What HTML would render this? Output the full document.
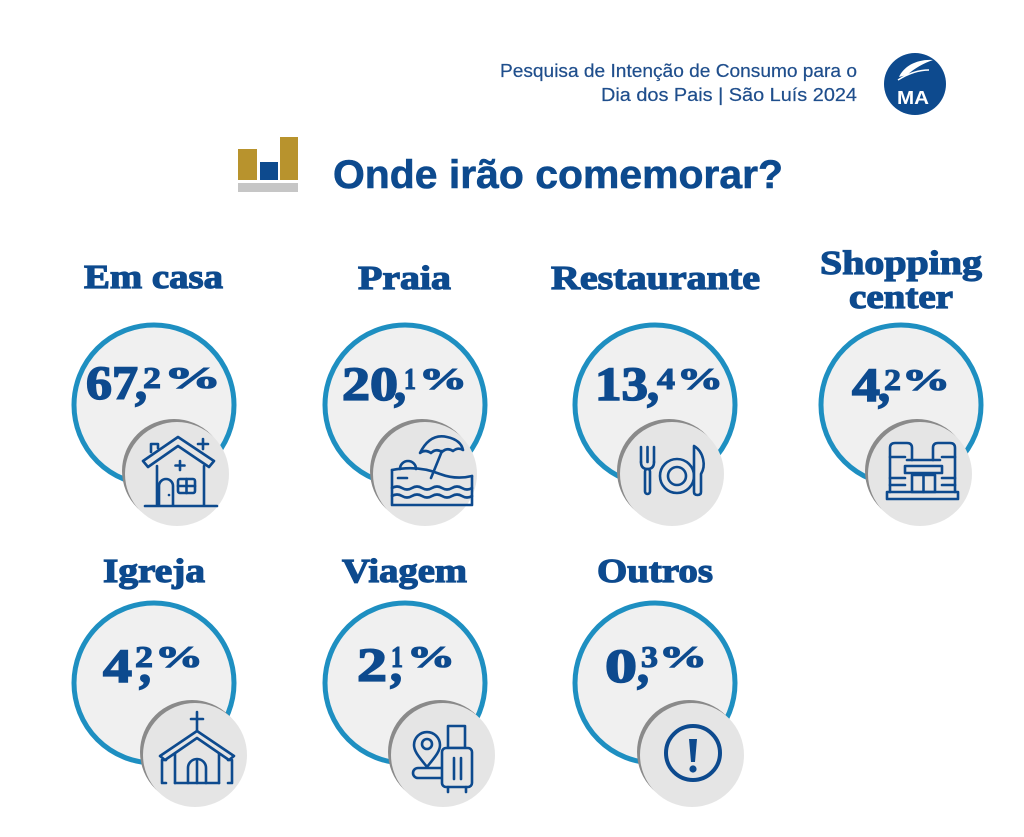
<!DOCTYPE html>
<html><head><meta charset="utf-8"><style>
html,body{margin:0;padding:0;background:#fff;}
svg{display:block;}
.lab{font-family:"Liberation Serif",serif;font-weight:bold;font-size:34px;fill:#0d4a8e;stroke:#0d4a8e;stroke-width:1.2;}
.big{font-family:"Liberation Serif",serif;font-weight:bold;font-size:48px;fill:#0d4a8e;stroke:#0d4a8e;stroke-width:1.6;}
.sup{font-family:"Liberation Serif",serif;font-weight:bold;font-size:31px;fill:#0d4a8e;stroke:#0d4a8e;stroke-width:1.1;}
.ring{fill:#f0f0f0;stroke:#1e8fc1;stroke-width:5;}
.sh{fill:#8a8a8a;}
.sm{fill:#e5e5e5;}
.ic{fill:none;stroke:#0d4a8e;stroke-width:2.6;stroke-linejoin:round;stroke-linecap:round;}
</style></head><body>
<svg width="1024" height="837" viewBox="0 0 1024 837" xmlns="http://www.w3.org/2000/svg">
<rect width="1024" height="837" fill="#fff"/>

<!-- header -->
<text x="500" y="77" font-family="Liberation Sans, sans-serif" font-size="18" fill="#1f4e8c" stroke="#1f4e8c" stroke-width="0.2" textLength="357" lengthAdjust="spacingAndGlyphs">Pesquisa de Intenção de Consumo para o</text>
<text x="601" y="101" font-family="Liberation Sans, sans-serif" font-size="18" fill="#1f4e8c" stroke="#1f4e8c" stroke-width="0.2" textLength="256" lengthAdjust="spacingAndGlyphs">Dia dos Pais | São Luís 2024</text>
<circle cx="915" cy="84" r="31" fill="#0d4a8e"/>
<path d="M899,77 C904,66 917,59 933,60 C924,63 915,68 907,75 Z" fill="#fff"/>
<path d="M898,80 C909,73 920,70 929,70" fill="none" stroke="#fff" stroke-width="1.5"/>
<text x="913" y="104" text-anchor="middle" font-family="Liberation Sans, sans-serif" font-weight="bold" font-size="18" fill="#fff" textLength="32" lengthAdjust="spacingAndGlyphs">MA</text>

<!-- title -->
<rect x="238" y="149" width="19" height="31" fill="#b8932d"/>
<rect x="260" y="162" width="18" height="18" fill="#0d4a8e"/>
<rect x="280" y="137" width="18" height="43" fill="#b8932d"/>
<rect x="238" y="183" width="60" height="9" fill="#c6c6c6"/>
<text x="333" y="188" font-family="Liberation Sans, sans-serif" font-weight="bold" font-size="40" fill="#0d4a8e" stroke="#0d4a8e" stroke-width="0.6" textLength="450" lengthAdjust="spacingAndGlyphs">Onde irão comemorar?</text>

<!-- labels -->
<text class="lab" x="84" y="288" textLength="139" lengthAdjust="spacingAndGlyphs">Em casa</text>
<text class="lab" x="358" y="289" textLength="93" lengthAdjust="spacingAndGlyphs">Praia</text>
<text class="lab" x="551" y="289" textLength="209" lengthAdjust="spacingAndGlyphs">Restaurante</text>
<text class="lab" x="820" y="274" textLength="162" lengthAdjust="spacingAndGlyphs">Shopping</text>
<text class="lab" x="849" y="308" textLength="104" lengthAdjust="spacingAndGlyphs">center</text>
<text class="lab" x="103" y="582" textLength="102" lengthAdjust="spacingAndGlyphs">Igreja</text>
<text class="lab" x="342" y="582" textLength="125" lengthAdjust="spacingAndGlyphs">Viagem</text>
<text class="lab" x="597" y="582" textLength="116" lengthAdjust="spacingAndGlyphs">Outros</text>

<!-- big circles -->
<circle class="ring" cx="154" cy="405" r="80"/>
<circle class="ring" cx="405" cy="405" r="80"/>
<circle class="ring" cx="655" cy="405" r="80"/>
<circle class="ring" cx="901" cy="405" r="80"/>
<circle class="ring" cx="154" cy="683" r="80"/>
<circle class="ring" cx="405" cy="683" r="80"/>
<circle class="ring" cx="655" cy="683" r="80"/>

<!-- numbers row 1 -->
<text class="big" x="86" y="399" textLength="52" lengthAdjust="spacingAndGlyphs">67</text>
<text class="big" x="135" y="399">,</text>
<text class="sup" x="143" y="388" textLength="18" lengthAdjust="spacingAndGlyphs">2</text>
<text class="sup" x="164" y="388" textLength="57" lengthAdjust="spacingAndGlyphs">%</text>

<text class="big" x="342" y="400" textLength="56" lengthAdjust="spacingAndGlyphs">20</text>
<text class="big" x="394" y="400">,</text>
<text class="sup" x="404" y="389" textLength="12" lengthAdjust="spacingAndGlyphs">1</text>
<text class="sup" x="419" y="389" textLength="48" lengthAdjust="spacingAndGlyphs">%</text>

<text class="big" x="595" y="400" textLength="53" lengthAdjust="spacingAndGlyphs">13</text>
<text class="big" x="647" y="400">,</text>
<text class="sup" x="657" y="389" textLength="18" lengthAdjust="spacingAndGlyphs">4</text>
<text class="sup" x="677" y="389" textLength="46" lengthAdjust="spacingAndGlyphs">%</text>

<text class="big" x="852" y="401" textLength="28" lengthAdjust="spacingAndGlyphs">4</text>
<text class="big" x="878" y="401">,</text>
<text class="sup" x="884" y="390" textLength="17" lengthAdjust="spacingAndGlyphs">2</text>
<text class="sup" x="902" y="390" textLength="48" lengthAdjust="spacingAndGlyphs">%</text>

<!-- numbers row 2 -->
<text class="big" x="103" y="682" textLength="29" lengthAdjust="spacingAndGlyphs">4</text>
<text class="big" x="139" y="682">,</text>
<text class="sup" x="135" y="667" textLength="18" lengthAdjust="spacingAndGlyphs">2</text>
<text class="sup" x="155" y="667" textLength="48" lengthAdjust="spacingAndGlyphs">%</text>

<text class="big" x="357" y="681" textLength="30" lengthAdjust="spacingAndGlyphs">2</text>
<text class="big" x="390" y="681">,</text>
<text class="sup" x="391" y="667" textLength="12" lengthAdjust="spacingAndGlyphs">1</text>
<text class="sup" x="407" y="667" textLength="48" lengthAdjust="spacingAndGlyphs">%</text>

<text class="big" x="605" y="682" textLength="32" lengthAdjust="spacingAndGlyphs">0</text>
<text class="big" x="637" y="682">,</text>
<text class="sup" x="641" y="667" textLength="17" lengthAdjust="spacingAndGlyphs">3</text>
<text class="sup" x="659" y="667" textLength="48" lengthAdjust="spacingAndGlyphs">%</text>

<!-- small circles -->
<circle class="sh" cx="174" cy="471" r="52"/><circle class="sm" cx="177" cy="474" r="52"/>
<circle class="sh" cx="422" cy="471" r="52"/><circle class="sm" cx="425" cy="474" r="52"/>
<circle class="sh" cx="669" cy="471" r="52"/><circle class="sm" cx="672" cy="474" r="52"/>
<circle class="sh" cx="917" cy="471" r="52"/><circle class="sm" cx="920" cy="474" r="52"/>
<circle class="sh" cx="192" cy="752" r="52"/><circle class="sm" cx="195" cy="755" r="52"/>
<circle class="sh" cx="440" cy="752" r="52"/><circle class="sm" cx="443" cy="755" r="52"/>
<circle class="sh" cx="689" cy="752" r="52"/><circle class="sm" cx="692" cy="755" r="52"/>

<!-- house -->
<g class="ic">
<path d="M151,452 V444 H158 V448"/>
<path d="M143,461 L178,437 L214,461 L209,467 L178,446 L148,467 Z" fill="#e5e5e5"/>
<path d="M157,466 V505 M204,466 V505 M145,506 H217"/>
<path d="M159,505 V486 A7,7 0 0 1 173,486 V505"/>
<rect x="178" y="479" width="17" height="14" rx="2"/>
<path d="M186.5,479 V493 M178,486 H195"/>
<path d="M203,439 V449 M198,444 H208 M180,461 V470 M175.5,465.5 H184.5"/>
</g>
<circle cx="169" cy="495" r="1.3" fill="#0d4a8e"/>

<!-- beach -->
<g class="ic">
<path d="M420,453 Q430,433 447,437 Q461,440 463,450 Q458,447 453,451 Q447,447 442,452 Q436,448 431,453 Q425,449 420,453 Z"/>
<path d="M442,451 L431,478"/>
<path d="M400,469 A8,8 0 0 1 416,469"/>
<path d="M392,470 Q418,465 440,474 Q456,480 472,476"/>
<path d="M392,470 V505 H472 V476"/>
<path d="M392,488 q5,-3 10,0 t10,0 t10,0 t10,0 t10,0 t10,0 t10,0 t10,0"/>
<path d="M392,496 q5,-3 10,0 t10,0 t10,0 t10,0 t10,0 t10,0 t10,0 t10,0"/>
<path d="M398,478 H407"/>
</g>

<!-- restaurant -->
<g class="ic">
<path d="M641,447 V462 M647.5,447 V462 M654,447 V462"/>
<path d="M641,462 Q641,469 647.5,469 Q654,469 654,462"/>
<rect x="645" y="469" width="5" height="25" rx="2.5"/>
<circle cx="677" cy="476" r="17"/>
<circle cx="677" cy="476" r="9"/>
<path d="M694,446 V492 Q694,495 697.5,495 Q701,495 701,492 V474 C706,466 704,452 694,446 Z" fill="#e5e5e5"/>
</g>

<!-- shopping -->
<g class="ic">
<path d="M890,492 V448 Q890,443 895,443 H907 Q912,443 912,448 V460"/>
<path d="M933,460 V448 Q933,443 938,443 H950 Q955,443 955,448 V492"/>
<path d="M907,460 H940"/>
<rect x="905" y="466" width="37" height="7"/>
<rect x="912" y="475" width="23" height="17"/>
<path d="M923.5,475 V492"/>
<path d="M890,457 H905 M942,457 H955 M890,478 H905 M942,478 H955 M890,485 H905 M942,485 H955"/>
<rect x="887" y="492" width="71" height="7"/>
</g>

<!-- church -->
<g class="ic">
<path d="M197,712 V731 M191,719 H203"/>
<path d="M160,756 L197,731 L234,756 L229,760 L197,738 L165,760 Z"/>
<path d="M175,754 V783 M219,754 V783"/>
<path d="M166,760 H162 V783 H166 M228,760 H232 V783 H228"/>
<path d="M175,783 H219"/>
<path d="M188,783 V768 A9,9 0 0 1 206,768 V783 M197,761 V783"/>
</g>

<!-- travel -->
<g class="ic">
<path d="M427,767 C420,758 414,752 414,745 A13,13 0 0 1 440,745 C440,752 434,758 427,767 Z"/>
<circle cx="427" cy="744" r="5"/>
<path d="M442,768 H418 A5,5 0 0 0 418,778 H442"/>
<rect x="448" y="726" width="17" height="22"/>
<rect x="442" y="748" width="30" height="39" rx="4" fill="#e5e5e5"/>
<path d="M454,758 V779 M461,758 V779 M448,787 V792 M466,787 V792"/>
</g>

<!-- outros -->
<circle cx="693" cy="753" r="27" fill="none" stroke="#0d4a8e" stroke-width="4"/>
<path d="M689,739 H697 L695,762 H691 Z" fill="#0d4a8e"/>
<circle cx="693" cy="769" r="3.6" fill="#0d4a8e"/>
</svg>
</body></html>
